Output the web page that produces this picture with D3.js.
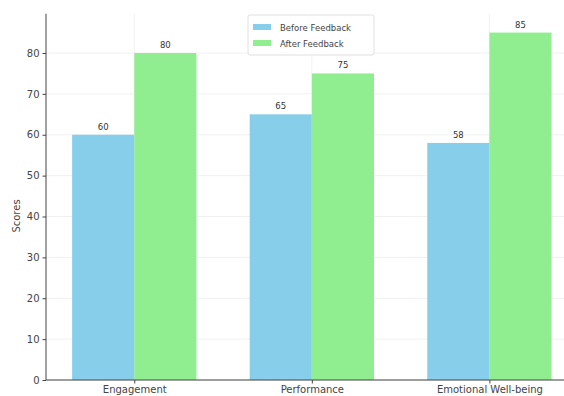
<!DOCTYPE html>
<html><head><meta charset="utf-8">
<script src="https://cdn.jsdelivr.net/npm/d3@7"></script>
<style>body{margin:0;background:#fff}svg{display:block}text{font-family:"DejaVu Sans",sans-serif}</style>
</head><body><svg id="c" width="564" height="396"></svg>
<script>
const categories = ["Engagement", "Performance", "Emotional Well-being"];
const seriesNames = ["Before Feedback", "After Feedback"];
const beforeValues = [60, 65, 58];
const afterValues = [80, 75, 85];
const yTicks = [0, 10, 20, 30, 40, 50, 60, 70, 80];
const colors = ["#87CEEB", "#90EE90"];

const svg = d3.select("#c");
const x = d3.scaleLinear().domain([-0.497, 2.42]).range([46, 564]);
const y = d3.scaleLinear().domain([0, 80]).range([380, 53]);
const bw = 0.35;

// grid
const g = svg.append("g");
g.selectAll(".hg").data(yTicks).enter().append("line")
  .attr("x1", 46).attr("x2", 564).attr("y1", d => y(d)).attr("y2", d => y(d))
  .attr("stroke", "#ececec").attr("stroke-width", 0.8);
g.selectAll(".vg").data(categories).enter().append("line")
  .attr("x1", (d, i) => x(i)).attr("x2", (d, i) => x(i)).attr("y1", y(89.6)).attr("y2", 380)
  .attr("stroke", "#f0f0f0").attr("stroke-width", 0.8);

const series = [beforeValues, afterValues];
series.forEach((vals, s) => {
  const off = s === 0 ? -bw : 0;
  svg.append("g").selectAll("rect").data(vals).enter().append("rect")
    .attr("x", (d, i) => x(i + off)).attr("width", (d, i) => x(i + off + bw) - x(i + off))
    .attr("y", d => y(d)).attr("height", d => 380 - y(d))
    .attr("fill", colors[s]);
  svg.append("g").selectAll("text").data(vals).enter().append("text")
    .attr("x", (d, i) => x(i + off + bw / 2)).attr("y", d => y(d) - 5)
    .attr("text-anchor", "middle").attr("font-size", 8.5).attr("fill", "#333")
    .text(d => d);
});

// axes
const ya = d3.axisLeft(y).tickValues(yTicks).tickSize(3.5).tickPadding(3);
const yg = svg.append("g").attr("transform", "translate(46,0)").call(ya);
yg.select(".domain").attr("d", `M0,${y(89.6)}V380`).attr("stroke", "#444");
yg.selectAll("text").attr("font-size", 10).attr("fill", "#444").style("font-family", "DejaVu Sans");
yg.selectAll(".tick line").attr("stroke", "#444");

const xa = d3.axisBottom(x).tickValues([0, 1, 2]).tickFormat(i => categories[i]).tickSize(3.5).tickPadding(2);
const xg = svg.append("g").attr("transform", "translate(0,380)").call(xa);
xg.select(".domain").attr("d", "M46,0H564").attr("stroke", "#444");
xg.selectAll("text").attr("font-size", 10).attr("fill", "#444").style("font-family", "DejaVu Sans");
xg.selectAll(".tick line").attr("stroke", "#444");

svg.append("text").attr("transform", "translate(20,216) rotate(-90)")
  .attr("text-anchor", "middle").attr("font-size", 10).attr("fill", "#444").text("Scores");

// legend
const lg = svg.append("g").attr("transform", "translate(248,15)");
lg.append("rect").attr("width", 126).attr("height", 40).attr("rx", 2)
  .attr("fill", "#fff").attr("fill-opacity", 0.8).attr("stroke", "#e0e0e0");
seriesNames.forEach((n, i) => {
  lg.append("rect").attr("x", 5).attr("y", 9 + i * 16).attr("width", 18).attr("height", 6).attr("fill", colors[i]);
  lg.append("text").attr("x", 32).attr("y", 15.5 + i * 16).attr("font-size", 8.5).attr("fill", "#444").text(n);
});
</script></body></html>
